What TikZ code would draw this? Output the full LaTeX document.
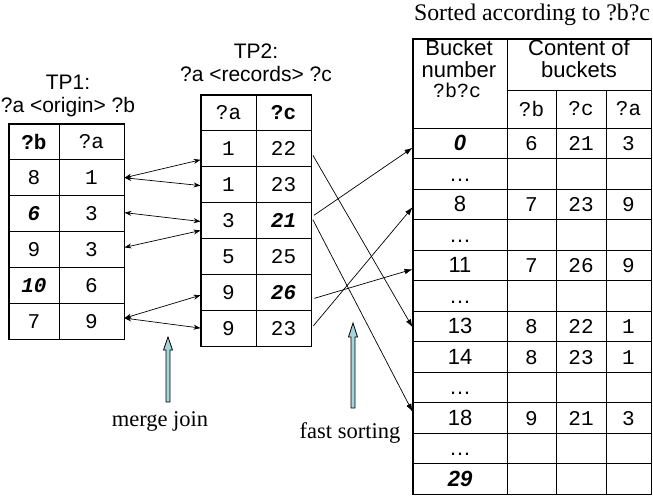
\documentclass[tikz,border=0pt]{standalone}
\usepackage{fontspec}
\setmainfont{Liberation Serif}
\setsansfont{Liberation Sans}
\setmonofont{Liberation Mono}
\usetikzlibrary{arrows.meta}
\definecolor{arrowblue}{RGB}{165,212,218}

\tikzset{
  cell/.style={draw, line width=0.9pt, inner sep=0pt, minimum height=35.8pt, font=\fontsize{21}{21}\selectfont\ttfamily},
  bcell/.style={draw, line width=0.9pt, inner sep=0pt, minimum height=30.5pt, text height=15pt, text depth=0pt, font=\fontsize{21}{21}\selectfont\ttfamily},
  num/.style={font=\fontsize{22}{22}\selectfont\sffamily},
  hdr/.style={font=\fontsize{22}{22}\selectfont\sffamily, anchor=base, inner sep=0pt},
  tplabel/.style={font=\fontsize{21}{21}\selectfont\sffamily, anchor=base, inner sep=0pt},
  caption/.style={font=\fontsize{22.5}{22.5}\selectfont, anchor=base, inner sep=0pt},
  frame/.style={line width=1.8pt},
  joinarrow/.style={{Stealth[length=7pt,width=5pt]}-{Stealth[length=7pt,width=5pt]}, line width=0.7pt},
  sortarrow/.style={-{Latex[length=8pt,width=5.5pt]}, line width=0.7pt, shorten <=3pt},
  fatarrow/.style={draw, fill=arrowblue, line width=0.8pt},
}

\begin{document}
\begin{tikzpicture}[x=1pt, y=-1pt]
\useasboundingbox (0,0) rectangle (653,496);

% TP1: ?a <origin> ?b
\node[tplabel] (tp1) at (68,89.3) {TP1:};
\node[tplabel] (tp1pat) at (68,112.7) {?a <origin> ?b};
\node[cell, minimum width=50pt] (ob0) at (34,141.9) {\textbf{?b}};
\node[cell, minimum width=65pt] (oa0) at (91.5,141.9) {?a};
\node[cell, minimum width=50pt] (ob1) at (34,177.75) {8};
\node[cell, minimum width=65pt] (oa1) at (91.5,177.75) {1};
\node[cell, minimum width=50pt] (ob2) at (34,213.6) {\textbf{\textit{6}}};
\node[cell, minimum width=65pt] (oa2) at (91.5,213.6) {3};
\node[cell, minimum width=50pt] (ob3) at (34,249.4) {9};
\node[cell, minimum width=65pt] (oa3) at (91.5,249.4) {3};
\node[cell, minimum width=50pt] (ob4) at (34,285.25) {\textbf{\textit{10}}};
\node[cell, minimum width=65pt] (oa4) at (91.5,285.25) {6};
\node[cell, minimum width=50pt] (ob5) at (34,321.1) {7};
\node[cell, minimum width=65pt] (oa5) at (91.5,321.1) {9};
\draw[frame] (ob0.north west) rectangle (oa5.south east);

% TP2: ?a <records> ?c
\node[tplabel] (tp2) at (256,58) {TP2:};
\node[tplabel] (tp2pat) at (256,81) {?a <records> ?c};
\node[cell, minimum width=55pt] (ra0) at (228.5,112.9) {?a};
\node[cell, minimum width=55pt] (rc0) at (283.5,112.9) {\textbf{?c}};
\node[cell, minimum width=55pt] (ra1) at (228.5,148.8) {1};
\node[cell, minimum width=55pt] (rc1) at (283.5,148.8) {22};
\node[cell, minimum width=55pt] (ra2) at (228.5,184.6) {1};
\node[cell, minimum width=55pt] (rc2) at (283.5,184.6) {23};
\node[cell, minimum width=55pt] (ra3) at (228.5,220.5) {3};
\node[cell, minimum width=55pt] (rc3) at (283.5,220.5) {\textbf{\textit{21}}};
\node[cell, minimum width=55pt] (ra4) at (228.5,256.4) {5};
\node[cell, minimum width=55pt] (rc4) at (283.5,256.4) {25};
\node[cell, minimum width=55pt] (ra5) at (228.5,292.2) {9};
\node[cell, minimum width=55pt] (rc5) at (283.5,292.2) {\textbf{\textit{26}}};
\node[cell, minimum width=55pt] (ra6) at (228.5,328.1) {9};
\node[cell, minimum width=55pt] (rc6) at (283.5,328.1) {23};
\draw[frame] (ra0.north west) rectangle (rc6.south east);

% buckets, sorted on ?b?c
\node[caption, font=\fontsize{23.8}{23.8}\selectfont] (sorted) at (532,20) {Sorted according to ?b?c};
\node[cell, minimum width=94pt, minimum height=89pt] (hnum) at (460,83.5) {};
\node[cell, minimum width=144pt, minimum height=51pt] (hcont) at (579,64.5) {};
\node[hdr] (hnum1) at (459,55) {Bucket};
\node[hdr] (hnum2) at (459,77) {number};
\node[hdr, font=\fontsize{20}{20}\selectfont\ttfamily] (hnum3) at (457,97) {?b?c};
\node[hdr] (hcont1) at (579,55) {Content of};
\node[hdr] (hcont2) at (579,77) {buckets};
\node[cell, minimum width=49pt, minimum height=38pt] (hb) at (531.5,109) {?b};
\node[cell, minimum width=50pt, minimum height=38pt] (hc) at (581,109) {?c};
\node[cell, minimum width=45pt, minimum height=38pt] (ha) at (628.5,109) {?a};

\node[bcell, num, minimum width=94pt] (k1) at (460,143.25) {\textbf{\textit{0}}};
\node[bcell, minimum width=49pt] (kb1) at (531.5,143.25) {6};
\node[bcell, minimum width=50pt] (kc1) at (581,143.25) {21};
\node[bcell, minimum width=45pt] (ka1) at (628.5,143.25) {3};
\node[bcell, num, minimum width=94pt] (k2) at (460,173.75) {\ldots};
\node[bcell, minimum width=49pt] (kb2) at (531.5,173.75) {};
\node[bcell, minimum width=50pt] (kc2) at (581,173.75) {};
\node[bcell, minimum width=45pt] (ka2) at (628.5,173.75) {};
\node[bcell, num, minimum width=94pt] (k3) at (460,204.25) {8};
\node[bcell, minimum width=49pt] (kb3) at (531.5,204.25) {7};
\node[bcell, minimum width=50pt] (kc3) at (581,204.25) {23};
\node[bcell, minimum width=45pt] (ka3) at (628.5,204.25) {9};
\node[bcell, num, minimum width=94pt] (k4) at (460,234.75) {\ldots};
\node[bcell, minimum width=49pt] (kb4) at (531.5,234.75) {};
\node[bcell, minimum width=50pt] (kc4) at (581,234.75) {};
\node[bcell, minimum width=45pt] (ka4) at (628.5,234.75) {};
\node[bcell, num, minimum width=94pt] (k5) at (460,265.25) {11};
\node[bcell, minimum width=49pt] (kb5) at (531.5,265.25) {7};
\node[bcell, minimum width=50pt] (kc5) at (581,265.25) {26};
\node[bcell, minimum width=45pt] (ka5) at (628.5,265.25) {9};
\node[bcell, num, minimum width=94pt] (k6) at (460,295.75) {\ldots};
\node[bcell, minimum width=49pt] (kb6) at (531.5,295.75) {};
\node[bcell, minimum width=50pt] (kc6) at (581,295.75) {};
\node[bcell, minimum width=45pt] (ka6) at (628.5,295.75) {};
\node[bcell, num, minimum width=94pt] (k7) at (460,326.25) {13};
\node[bcell, minimum width=49pt] (kb7) at (531.5,326.25) {8};
\node[bcell, minimum width=50pt] (kc7) at (581,326.25) {22};
\node[bcell, minimum width=45pt] (ka7) at (628.5,326.25) {1};
\node[bcell, num, minimum width=94pt] (k8) at (460,356.75) {14};
\node[bcell, minimum width=49pt] (kb8) at (531.5,356.75) {8};
\node[bcell, minimum width=50pt] (kc8) at (581,356.75) {23};
\node[bcell, minimum width=45pt] (ka8) at (628.5,356.75) {1};
\node[bcell, num, minimum width=94pt] (k9) at (460,387.25) {\ldots};
\node[bcell, minimum width=49pt] (kb9) at (531.5,387.25) {};
\node[bcell, minimum width=50pt] (kc9) at (581,387.25) {};
\node[bcell, minimum width=45pt] (ka9) at (628.5,387.25) {};
\node[bcell, num, minimum width=94pt] (k10) at (460,417.75) {18};
\node[bcell, minimum width=49pt] (kb10) at (531.5,417.75) {9};
\node[bcell, minimum width=50pt] (kc10) at (581,417.75) {21};
\node[bcell, minimum width=45pt] (ka10) at (628.5,417.75) {3};
\node[bcell, num, minimum width=94pt] (k11) at (460,448.25) {\ldots};
\node[bcell, minimum width=49pt] (kb11) at (531.5,448.25) {};
\node[bcell, minimum width=50pt] (kc11) at (581,448.25) {};
\node[bcell, minimum width=45pt] (ka11) at (628.5,448.25) {};
\node[bcell, num, minimum width=94pt] (k12) at (460,478.75) {\textbf{\textit{29}}};
\node[bcell, minimum width=49pt] (kb12) at (531.5,478.75) {};
\node[bcell, minimum width=50pt] (kc12) at (581,478.75) {};
\node[bcell, minimum width=45pt] (ka12) at (628.5,478.75) {};
\draw[frame] (hnum.north west) rectangle (ka12.south east);

% merge join arrows
\draw[joinarrow] (oa1.east) -- ([yshift=-11pt]ra1.west);
\draw[joinarrow] (oa1.east) -- ([yshift=-1pt]ra2.west);
\draw[joinarrow] ([yshift=1pt]oa2.east) -- ([yshift=-1pt]ra3.west);
\draw[joinarrow] ([yshift=2pt]oa3.east) -- ([yshift=-10pt]ra3.west);
\draw[joinarrow] ([yshift=3pt]oa5.east) -- ([yshift=-3pt]ra5.west);
\draw[joinarrow] ([yshift=3pt]oa5.east) -- (ra6.west);

% sorting arrows
\draw[sortarrow] ([yshift=-4pt]rc1.east) -- ([yshift=-1pt]k7.west);
\draw[sortarrow] ([yshift=3.5pt]rc3.east) -- ([yshift=-4.5pt]k1.west);
\draw[sortarrow] ([yshift=3.5pt]rc3.east) -- ([yshift=6pt]k10.west);
\draw[sortarrow] ([yshift=-7pt]rc5.east) -- ([yshift=-4pt]k5.west);
\draw[sortarrow] (rc6.east) -- ([yshift=-3pt]k3.west);

% up arrows and captions
\draw[fatarrow] (166,402) -- (166,350) -- (163.5,350) -- (168,337) -- (172.5,350) -- (170,350) -- (170,402) -- cycle;
\draw[fatarrow] (351,408) -- (351,337) -- (348.5,337) -- (353,323) -- (357.5,337) -- (355,337) -- (355,408) -- cycle;
\node[caption] (merge) at (160,426.7) {merge join};
\node[caption] (fast) at (350,438) {fast sorting};
\end{tikzpicture}
\end{document}
